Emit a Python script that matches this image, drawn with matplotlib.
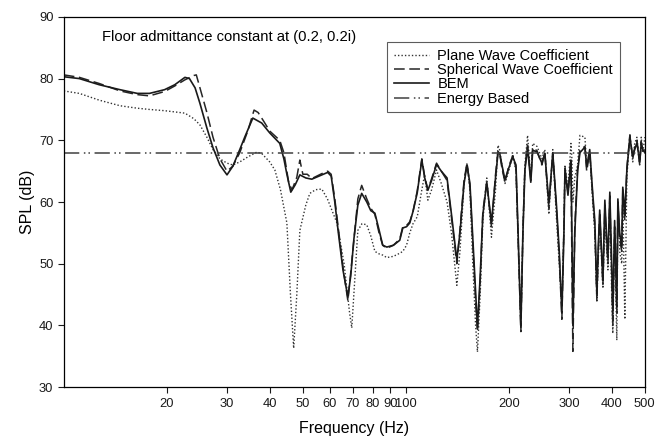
import numpy as np
import matplotlib
matplotlib.use("Agg")
import matplotlib.pyplot as plt
from matplotlib.ticker import FixedLocator, NullLocator, FixedFormatter

plt.rcParams['font.family'] = ['Liberation Sans', 'DejaVu Sans']

# low frequency part, read separately for each curve
bem_f_lo = [10.0, 11.1, 12.7, 14.6, 16.4, 17.8, 19.7, 21.1, 22.6, 23.3,
            24.2, 25.0, 26.2, 27.3, 28.6, 30.0, 31.2, 32.7, 33.8, 35.7,
            37.9, 40.0, 42.8, 44.0, 44.9, 46.1, 47.5, 49.0, 51.0, 53.1,
            56.8, 59.1, 60.5, 62.0, 63.5, 65.5, 67.7, 69.0, 70.5, 72.4,
            74.3, 76.9, 79.0]
bem_lo = [80.3, 80.0, 79.0, 78.2, 77.6, 77.6, 78.2, 79.0, 80.2, 80.0,
          78.5, 76.0, 72.0, 68.8, 66.0, 64.4, 65.8, 68.5, 70.5, 73.6,
          72.8, 71.2, 69.5, 67.0, 64.5, 61.6, 62.8, 64.4, 63.9, 63.7,
          64.4, 64.8, 64.2, 60.0, 55.0, 49.0, 44.6, 48.0, 54.0, 59.5,
          61.4, 60.0, 58.6]

plane_f_lo = [10.0, 11.1, 12.7, 14.6, 16.4, 17.8, 19.7, 21.1, 22.6, 24.0,
              25.0, 26.2, 27.3, 28.6, 30.0, 31.2, 32.7, 34.5, 36.7, 38.0,
              40.0, 41.4, 43.0, 44.9, 46.0, 47.0, 48.0, 49.0, 51.0, 52.4,
              54.5, 56.8, 59.0, 62.9, 66.0, 68.5, 69.5, 71.0, 72.4, 74.5,
              76.9, 79.0]
plane_lo = [78.0, 77.6, 76.5, 75.6, 75.2, 75.0, 74.8, 74.6, 74.4, 73.5,
            72.5, 70.5, 68.5, 67.0, 66.3, 66.0, 66.5, 67.3, 68.1, 67.8,
            66.5, 65.2, 62.0, 56.6, 45.0, 36.3, 45.0, 55.4, 59.5, 61.4,
            62.0, 62.1, 60.5, 56.6, 50.0, 42.0, 39.6, 48.0, 55.4, 56.5,
            56.3, 54.5]

sph_f_lo = [10.0, 11.1, 12.7, 14.6, 16.4, 17.8, 19.7, 21.1, 22.6, 24.0,
            24.4, 25.0, 26.2, 27.3, 28.6, 30.0, 31.2, 32.7, 34.5, 36.0,
            37.0, 38.5, 40.0, 42.8, 44.0, 45.5, 46.5, 48.0, 49.0, 50.0,
            51.5, 53.1, 56.8, 59.1, 60.5, 62.0, 65.5, 67.7, 69.0, 72.4,
            74.3, 76.9, 79.0]
sph_lo = [80.6, 80.2, 79.2, 78.0, 77.4, 77.2, 77.9, 78.8, 79.8, 80.5,
          80.6, 78.5, 74.5, 70.5, 67.0, 65.0, 65.8, 68.0, 71.5, 74.9,
          74.5, 73.0, 71.5, 70.0, 68.0, 63.0, 62.0, 64.0, 66.8, 64.5,
          64.5, 63.8, 64.6, 65.0, 64.5, 60.5, 49.5, 44.0, 48.5, 60.5,
          62.7, 60.5, 59.0]

# high frequency part, common frequency grid
f_hi = [81.2, 83.5, 85.6, 88.0, 92.0, 96.0, 98.0, 100.5, 102.7, 105,
        108, 111.4, 113.5, 116, 119, 123, 127, 132, 136, 141,
        144, 148, 151, 154, 157, 160, 162, 165, 168, 172.5,
        178, 183, 186, 188, 191, 195, 200, 205.5, 210, 213,
        217, 220, 223, 227, 232, 235, 242, 250, 255, 262,
        269, 276, 281, 286, 290, 292, 298, 304, 306, 308,
        312, 318, 323, 334, 338, 345, 352, 357, 362, 365,
        369, 377, 382, 386, 390, 395, 400, 403, 408, 414,
        417, 422, 428, 431, 437, 443, 452, 461, 467, 474,
        483, 488, 493, 500]
bem_hi = [58.2, 55.5, 53.0, 52.7, 53.0, 53.8, 55.8, 56.0, 56.6, 58.5,
          61.5, 66.8, 64.0, 61.9, 63.5, 66.1, 65.0, 63.9, 58.0, 50.6,
          55.0, 63.0, 66.0, 63.0, 54.0, 45.0, 39.7, 48.0, 58.0, 63.1,
          56.6, 64.0, 67.9, 68.0, 66.0, 63.6, 65.5, 67.3, 66.0, 55.0,
          39.7, 55.0, 65.2, 68.8, 63.2, 68.4, 68.1, 66.3, 67.9, 59.8,
          67.9, 59.2, 52.0, 42.0, 55.0, 65.2, 61.1, 66.8, 55.0, 40.0,
          55.0, 65.0, 68.0, 68.9, 65.7, 68.5, 61.4, 57.0, 45.2, 52.0,
          58.7, 47.3, 60.3, 55.0, 51.0, 61.6, 50.0, 42.0, 57.0, 43.0,
          60.5, 55.0, 52.7, 62.4, 58.0, 65.2, 70.5, 67.3, 68.5, 69.6,
          66.5, 69.5, 68.5, 68.0]
plane_hi = [52.0, 51.6, 51.4, 51.0, 51.2, 51.7, 52.0, 53.0, 55.0, 56.5,
            57.6, 62.0, 64.4, 60.3, 62.0, 65.2, 63.0, 60.0, 55.0, 46.5,
            52.0, 63.0, 66.3, 62.0, 50.0, 40.0, 35.7, 45.0, 57.0, 63.9,
            54.3, 62.0, 69.2, 68.5, 66.0, 63.0, 65.0, 67.7, 65.0, 54.0,
            40.0, 55.0, 66.0, 70.8, 64.0, 69.5, 69.0, 67.0, 68.5, 58.0,
            68.5, 57.0, 50.0, 43.0, 56.0, 66.0, 62.0, 69.5, 67.0, 60.0,
            64.0, 66.0, 70.8, 70.5, 66.0, 68.0, 60.0, 55.0, 44.0, 50.0,
            57.5, 46.0, 58.0, 53.0, 49.0, 60.0, 45.0, 38.7, 55.0, 37.6,
            59.0, 52.0, 50.0, 61.0, 41.0, 64.0, 71.0, 66.5, 69.5, 70.5,
            66.0, 70.5, 68.0, 70.5]
sph_hi = [58.0, 55.0, 53.0, 52.5, 53.0, 54.0, 56.0, 56.2, 56.8, 58.5,
          61.8, 67.0, 64.2, 62.0, 63.8, 66.3, 65.0, 63.5, 57.5, 50.0,
          55.5, 63.5, 66.3, 62.5, 53.0, 44.0, 39.0, 47.0, 58.5, 63.3,
          56.0, 64.5, 68.2, 68.0, 65.5, 63.2, 65.8, 67.5, 65.5, 54.0,
          39.0, 55.5, 65.5, 69.2, 63.5, 68.8, 68.3, 66.0, 68.0, 59.0,
          68.0, 58.5, 51.0, 41.0, 56.0, 65.5, 61.5, 67.0, 50.0, 35.8,
          56.0, 65.5, 68.5, 69.0, 65.0, 68.0, 61.0, 56.0, 44.0, 51.0,
          58.0, 46.5, 59.5, 54.0, 50.0, 61.0, 48.0, 40.0, 56.0, 42.0,
          60.0, 54.0, 52.0, 62.0, 57.0, 65.5, 70.8, 67.0, 68.8, 70.0,
          66.0, 69.8, 68.2, 68.5]

energy_f = [10, 500]
energy = [68, 68]

xticks = [20, 30, 40, 50, 60, 70, 80, 90, 100, 200, 300, 400, 500]

fig = plt.figure(figsize=(6.58, 4.44), dpi=100)
ax = fig.add_axes([0.097, 0.128, 0.883, 0.834])

ax.plot(np.concatenate([plane_f_lo, f_hi]), np.concatenate([plane_lo, plane_hi]),
        color='0.2', lw=1.0, ls=(0, (1, 1.5)), label='Plane Wave Coefficient')
ax.plot(np.concatenate([sph_f_lo, f_hi]), np.concatenate([sph_lo, sph_hi]),
        color='0.15', lw=1.1, ls=(0, (7, 3)), label='Spherical Wave Coefficient')
ax.plot(np.concatenate([bem_f_lo, f_hi]), np.concatenate([bem_lo, bem_hi]),
        color='0.1', lw=1.2, ls='-', label='BEM')
ax.plot(energy_f, energy, color='0.25', lw=1.1,
        ls=(0, (10, 3, 1, 2, 1, 3)), label='Energy Based')

ax.set_xscale('log')
ax.set_xlim(10, 500)
ax.set_ylim(30, 90)
ax.xaxis.set_major_locator(FixedLocator(xticks))
ax.xaxis.set_major_formatter(FixedFormatter([str(t) for t in xticks]))
ax.xaxis.set_minor_locator(NullLocator())
ax.set_yticks([30, 40, 50, 60, 70, 80, 90])
ax.tick_params(labelsize=9.3, length=4, width=0.8, direction='out', colors='0.1')
for s in ax.spines.values():
    s.set_linewidth(0.9)

ax.set_xlabel('Frequency (Hz)', fontsize=11.5, labelpad=8)
ax.set_ylabel('SPL (dB)', fontsize=11.5, labelpad=3)

ax.text(0.065, 0.946, 'Floor admittance constant at (0.2, 0.2i)', transform=ax.transAxes,
        fontsize=10.6, va='center', ha='left')

leg = ax.legend(loc='upper right', bbox_to_anchor=(0.969, 0.951), fontsize=10.5,
                frameon=True, fancybox=False, edgecolor='0.2', handlelength=2.4,
                labelspacing=0.02, borderpad=0.45, handletextpad=0.6)
leg.get_frame().set_linewidth(0.8)

fig.savefig('out.png', dpi=100)
